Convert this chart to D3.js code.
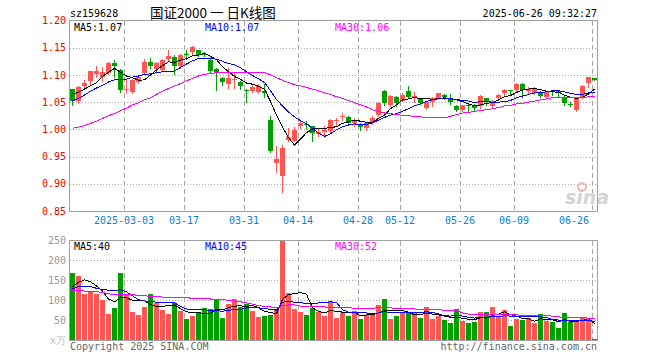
<!DOCTYPE html>
<html>
<head>
<meta charset="utf-8">
<script src="https://cdn.jsdelivr.net/npm/d3@7/dist/d3.min.js"></script>
<style>
  body { margin: 0; background: #fff; }
</style>
</head>
<body>
<script>
// trading days shown on the chart
const dates = [
  "2025-02-18","2025-02-19","2025-02-20","2025-02-21","2025-02-24","2025-02-25","2025-02-26","2025-02-27","2025-02-28",
  "2025-03-03","2025-03-04","2025-03-05","2025-03-06","2025-03-07","2025-03-10","2025-03-11","2025-03-12","2025-03-13","2025-03-14",
  "2025-03-17","2025-03-18","2025-03-19","2025-03-20","2025-03-21","2025-03-24","2025-03-25","2025-03-26","2025-03-27","2025-03-28",
  "2025-03-31","2025-04-01","2025-04-02","2025-04-03","2025-04-07","2025-04-08","2025-04-09","2025-04-10","2025-04-11",
  "2025-04-14","2025-04-15","2025-04-16","2025-04-17","2025-04-18","2025-04-21","2025-04-22","2025-04-23","2025-04-24","2025-04-25",
  "2025-04-28","2025-04-29","2025-04-30","2025-05-06","2025-05-07","2025-05-08","2025-05-09",
  "2025-05-12","2025-05-13","2025-05-14","2025-05-15","2025-05-16","2025-05-19","2025-05-20","2025-05-21","2025-05-22","2025-05-23",
  "2025-05-26","2025-05-27","2025-05-28","2025-05-29","2025-05-30","2025-06-03","2025-06-04","2025-06-05","2025-06-06",
  "2025-06-09","2025-06-10","2025-06-11","2025-06-12","2025-06-13","2025-06-16","2025-06-17","2025-06-18","2025-06-19","2025-06-20",
  "2025-06-23","2025-06-24","2025-06-25","2025-06-26"
];

const open = [
  1.074,1.053,1.079,1.088,1.101,1.096,1.104,1.122,1.109,
  1.073,1.068,1.087,1.104,1.123,1.111,1.109,1.129,1.133,1.116,
  1.138,1.143,1.145,1.138,1.128,1.111,1.095,1.084,1.091,1.087,
  1.073,1.070,1.069,1.070,1.018,0.939,0.915,0.981,0.978,
  1.006,1.010,1.006,0.991,0.995,0.997,1.015,1.022,1.022,1.012,
  1.010,1.002,1.011,1.027,1.070,1.045,1.059,
  1.053,1.071,1.059,1.056,1.039,1.051,1.057,1.064,1.058,1.043,
  1.036,1.045,1.043,1.042,1.057,1.043,1.057,1.066,1.072,
  1.072,1.084,1.070,1.067,1.068,1.059,1.070,1.070,1.059,1.046,
  1.035,1.059,1.086,1.094
];
const high = [
  1.075,1.079,1.090,1.108,1.117,1.115,1.123,1.127,1.110,
  1.093,1.093,1.099,1.129,1.131,1.124,1.129,1.146,1.137,1.138,
  1.145,1.154,1.146,1.143,1.130,1.113,1.096,1.113,1.104,1.088,
  1.074,1.081,1.084,1.084,1.024,0.969,0.972,1.003,1.004,
  1.018,1.015,1.007,1.000,1.007,1.019,1.020,1.030,1.024,1.020,
  1.011,1.014,1.024,1.051,1.072,1.064,1.061,
  1.067,1.079,1.068,1.057,1.051,1.059,1.067,1.065,1.065,1.045,
  1.045,1.046,1.047,1.064,1.058,1.054,1.065,1.074,1.073,
  1.085,1.085,1.078,1.077,1.071,1.071,1.073,1.071,1.061,1.051,
  1.059,1.082,1.097,1.095
];
const low = [
  1.045,1.049,1.078,1.082,1.096,1.088,1.102,1.096,1.068,
  1.067,1.067,1.085,1.102,1.113,1.108,1.107,1.125,1.101,1.113,
  1.130,1.139,1.134,1.134,1.104,1.072,1.082,1.076,1.076,1.075,
  1.050,1.069,1.067,1.060,0.958,0.922,0.885,0.978,0.978,
  1.002,1.000,0.978,0.988,0.986,0.996,1.008,1.017,1.008,1.006,
  0.998,0.998,1.010,1.025,1.045,1.043,1.042,
  1.052,1.057,1.051,1.047,1.038,1.042,1.055,1.055,1.046,1.034,
  1.034,1.033,1.036,1.040,1.045,1.041,1.055,1.064,1.063,
  1.070,1.059,1.066,1.065,1.060,1.057,1.063,1.062,1.045,1.042,
  1.033,1.058,1.077,1.090
];
const close = [
  1.052,1.078,1.085,1.107,1.107,1.106,1.122,1.116,1.072,
  1.075,1.090,1.096,1.123,1.117,1.121,1.127,1.134,1.116,1.137,
  1.137,1.152,1.136,1.137,1.107,1.106,1.087,1.095,1.092,1.079,
  1.070,1.077,1.079,1.067,0.960,0.946,0.966,0.986,0.999,
  1.012,1.008,0.993,0.996,0.999,1.018,1.017,1.024,1.012,1.016,
  1.004,1.011,1.020,1.049,1.048,1.062,1.048,
  1.064,1.059,1.062,1.048,1.050,1.057,1.066,1.060,1.050,1.036,
  1.044,1.043,1.040,1.062,1.050,1.052,1.064,1.072,1.070,
  1.083,1.072,1.074,1.074,1.062,1.068,1.068,1.067,1.049,1.044,
  1.057,1.080,1.096,1.091
];

// volume, in 万
const volume = [
  168,162,115,121,115,100,65,80,168,
  115,70,62,82,115,93,75,65,92,72,
  52,60,67,80,77,102,55,90,102,82,
  90,72,57,61,63,79,250,117,77,
  70,62,80,70,60,97,55,68,60,72,
  52,62,68,87,102,52,60,
  67,67,67,55,82,52,60,50,42,77,
  47,42,45,70,70,82,57,75,35,
  52,50,55,42,65,47,45,30,67,45,
  47,55,55,2
];

const ma5 = [
  1.065,1.068,1.074,1.080,1.086,1.097,1.105,1.112,1.105,
  1.098,1.095,1.090,1.091,1.100,1.109,1.117,1.124,1.123,1.127,
  1.130,1.135,1.136,1.140,1.134,1.128,1.115,1.106,1.097,1.092,
  1.085,1.083,1.079,1.074,1.051,1.026,1.004,0.985,0.971,
  0.982,0.994,1.000,1.002,1.002,1.003,1.005,1.011,1.014,1.017,
  1.015,1.013,1.013,1.020,1.026,1.038,1.045,
  1.054,1.056,1.059,1.056,1.057,1.055,1.057,1.056,1.057,1.054,
  1.051,1.047,1.043,1.045,1.048,1.049,1.054,1.060,1.062,
  1.068,1.072,1.074,1.075,1.073,1.070,1.069,1.068,1.063,1.059,
  1.057,1.059,1.065,1.074
];
const ma10 = [
  1.052,1.057,1.063,1.070,1.076,1.081,1.087,1.091,1.091,
  1.092,1.096,1.098,1.101,1.102,1.104,1.106,1.107,1.107,1.114,
  1.120,1.126,1.130,1.131,1.130,1.129,1.125,1.121,1.119,1.113,
  1.106,1.099,1.093,1.086,1.071,1.055,1.043,1.032,1.023,
  1.016,1.010,1.002,0.993,0.987,0.992,0.999,1.005,1.008,1.010,
  1.009,1.009,1.012,1.017,1.022,1.026,1.029,
  1.033,1.038,1.043,1.047,1.051,1.055,1.056,1.058,1.056,1.055,
  1.053,1.052,1.049,1.051,1.051,1.050,1.050,1.051,1.053,
  1.058,1.061,1.064,1.067,1.067,1.069,1.071,1.071,1.069,1.066,
  1.064,1.064,1.067,1.068
];
const ma30 = [
  1.002,1.004,1.007,1.011,1.015,1.020,1.025,1.029,1.034,
  1.039,1.045,1.049,1.054,1.058,1.064,1.070,1.075,1.080,1.084,
  1.089,1.094,1.098,1.101,1.103,1.104,1.105,1.105,1.105,1.105,
  1.105,1.105,1.105,1.105,1.100,1.095,1.090,1.086,1.082,
  1.080,1.077,1.074,1.071,1.067,1.064,1.060,1.057,1.053,1.049,
  1.045,1.041,1.036,1.033,1.030,1.029,1.027,
  1.026,1.025,1.024,1.023,1.022,1.022,1.021,1.021,1.024,1.027,
  1.030,1.031,1.033,1.035,1.036,1.038,1.040,1.043,1.044,
  1.047,1.048,1.050,1.052,1.054,1.056,1.058,1.058,1.058,1.058,
  1.058,1.058,1.060,1.061
];

const volMa5 = [
  134,145,151,146,136,123,103,96,106,
  106,100,99,99,89,84,85,86,88,79,
  71,68,69,66,67,77,76,81,85,86,
  84,87,81,72,69,66,102,114,117,
  119,115,81,72,68,74,72,70,68,70,
  61,63,63,68,74,74,74,
  74,70,63,63,68,65,63,60,57,56,
  55,52,51,56,55,62,65,71,64,
  60,54,53,47,53,52,51,46,51,47,
  47,49,54,41
];
const volMa10 = [
  128,135,135,134,130,127,125,125,126,
  121,111,101,98,97,95,93,93,94,84,
  78,77,77,77,73,74,72,75,76,77,
  81,82,81,79,77,75,95,97,95,
  94,91,92,93,93,96,94,76,70,69,
  68,68,66,68,72,68,68,
  68,69,68,69,71,69,66,61,60,62,
  60,57,55,57,56,59,58,61,60,
  58,58,59,59,58,56,52,50,49,50,
  49,50,50,46
];
const volMa30 = [
  125,124,123,122,121,120,116,114,114,
  115,114,112,111,110,109,108,107,107,106,
  106,105,104,104,103,102,101,100,98,96,
  93,90,86,85,83,81,86,88,88,
  85,83,83,84,83,82,81,81,81,80,
  79,80,80,81,81,81,79,
  80,79,78,77,76,76,76,75,75,75,
  68,65,64,64,65,65,64,65,63,
  63,62,62,61,61,61,60,58,57,57,
  56,56,55,53
];

const tickDates = ["2025-03-03","2025-03-17","2025-03-31","2025-04-14","2025-04-28","2025-05-12","2025-05-26","2025-06-09","2025-06-26"];
const tickLabels = ["2025-03-03","03-17","03-31","04-14","04-28","05-12","05-26","06-09","06-26"];
const priceTicks = [0.85, 0.90, 0.95, 1.00, 1.05, 1.10, 1.15, 1.20];
const volumeTicks = [50, 100, 150, 200, 250];
const priceMaLabels = ["MA5:1.07", "MA10:1.07", "MA30:1.06"];
const volumeMaLabels = ["MA5:40", "MA10:45", "MA30:52"];

const width = 660;
const height = 360;
const mono = '"DejaVu Sans Mono", "Liberation Mono", monospace';
const red = "#ff5555";
const green = "#009f00";
const maColors = ["#000000", "#0000ff", "#ff00ff"];

const left = 70;
const right = 598;
const priceTop = 20.5;
const priceBottom = 211;
const volTop = 240.5;
const volBottom = 340;

const svg = d3
  .select("body")
  .append("svg")
  .attr("width", width)
  .attr("height", height)
  .style("font-family", mono)
  .style("font-size", "10px");

const xScale = d3
  .scaleBand()
  .domain(dates)
  .range([left, right])
  .paddingInner(0.17)
  .align(0)
  .round(true);
const bw = xScale.bandwidth();
const mid = (d) => xScale(d) + Math.floor(bw / 2) + 0.5;

const yPrice = d3.scaleLinear().domain([0.85, 1.2]).range([priceBottom, priceTop]);
const yVol = d3.scaleLinear().domain([0, 250]).range([volBottom, volTop]);
const crisp = (v) => Math.round(v) + 0.5;

// grid
const grid = svg.append("g").attr("stroke", "#a8a8a8").attr("shape-rendering", "crispEdges");
grid
  .selectAll(".hp")
  .data(priceTicks.slice(1, -1))
  .join("line")
  .attr("x1", left)
  .attr("x2", right)
  .attr("y1", (d) => crisp(yPrice(d)))
  .attr("y2", (d) => crisp(yPrice(d)))
  .attr("stroke-dasharray", "1,2");
grid
  .selectAll(".hv")
  .data(volumeTicks.slice(0, -1))
  .join("line")
  .attr("x1", left)
  .attr("x2", right)
  .attr("y1", (d) => crisp(yVol(d)))
  .attr("y2", (d) => crisp(yVol(d)))
  .attr("stroke-dasharray", "1,2");
[[priceTop, priceBottom], [volTop, volBottom]].forEach(([y0, y1]) => {
  grid
    .append("g")
    .selectAll("line")
    .data(tickDates)
    .join("line")
    .attr("x1", (d) => crisp(xScale(d)))
    .attr("x2", (d) => crisp(xScale(d)))
    .attr("y1", y0)
    .attr("y2", y1)
    .attr("stroke-dasharray", "5,3");
});

// sina watermark
svg
  .append("text")
  .attr("x", 565)
  .attr("y", 204)
  .attr("font-family", "DejaVu Sans")
  .attr("font-size", 19)
  .attr("font-style", "italic")
  .attr("font-weight", "bold")
  .attr("fill", "#d4d4d4")
  .text("sina");
svg
  .append("circle")
  .attr("cx", 582)
  .attr("cy", 187)
  .attr("r", 4)
  .attr("fill", "none")
  .attr("stroke", "#f2b8b8")
  .attr("stroke-width", 2);

const colorOf = (i) => (close[i] >= open[i] ? red : green);

// candles
const candles = svg
  .append("g")
  .attr("shape-rendering", "crispEdges")
  .selectAll("g")
  .data(dates)
  .join("g");
candles
  .append("line")
  .attr("x1", (d) => mid(d))
  .attr("x2", (d) => mid(d))
  .attr("y1", (d, i) => Math.round(yPrice(high[i])))
  .attr("y2", (d, i) => Math.round(yPrice(low[i])) + 1)
  .attr("stroke", (d, i) => colorOf(i));
candles
  .append("rect")
  .attr("x", (d) => xScale(d))
  .attr("width", bw)
  .attr("y", (d, i) => Math.round(yPrice(Math.max(open[i], close[i]))))
  .attr("height", (d, i) =>
    Math.max(1, Math.round(yPrice(Math.min(open[i], close[i]))) - Math.round(yPrice(Math.max(open[i], close[i]))))
  )
  .attr("fill", (d, i) => colorOf(i));

// volume bars
svg
  .append("g")
  .attr("shape-rendering", "crispEdges")
  .selectAll("rect")
  .data(dates)
  .join("rect")
  .attr("x", (d) => xScale(d))
  .attr("width", bw)
  .attr("y", (d, i) => Math.round(yVol(Math.min(volume[i], 250))))
  .attr("height", (d, i) => volBottom - Math.round(yVol(Math.min(volume[i], 250))))
  .attr("fill", (d, i) => colorOf(i));

// moving averages
const priceLine = d3
  .line()
  .x((v, i) => mid(dates[i]))
  .y((v) => yPrice(v));
const volLine = d3
  .line()
  .x((v, i) => mid(dates[i]))
  .y((v) => yVol(v));
[ma5, ma10, ma30].forEach((series, k) => {
  svg
    .append("path")
    .datum(series)
    .attr("d", priceLine)
    .attr("fill", "none")
    .attr("stroke", maColors[k])
    .attr("stroke-width", 1)
    .attr("shape-rendering", "crispEdges");
});
[volMa5, volMa10, volMa30].forEach((series, k) => {
  svg
    .append("path")
    .datum(series)
    .attr("d", volLine)
    .attr("fill", "none")
    .attr("stroke", maColors[k])
    .attr("stroke-width", 1)
    .attr("shape-rendering", "crispEdges");
});

// frames
[[priceTop, priceBottom + 0.5], [volTop, volBottom + 0.5]].forEach(([y0, y1]) => {
  svg
    .append("rect")
    .attr("x", left - 0.5)
    .attr("y", y0)
    .attr("width", right - left)
    .attr("height", y1 - y0)
    .attr("fill", "none")
    .attr("stroke", "#a0a0a0")
    .attr("shape-rendering", "crispEdges");
});

// axes
const priceAxis = d3
  .axisLeft(yPrice)
  .tickValues(priceTicks)
  .tickFormat(d3.format(".2f"))
  .tickSize(0)
  .tickPadding(3);
svg
  .append("g")
  .attr("transform", `translate(${left - 1},0)`)
  .call(priceAxis)
  .attr("font-family", mono)
  .attr("font-size", 10)
  .call((g) => g.select(".domain").remove())
  .call((g) => g.selectAll("text").attr("fill", "#f00000"));

const volAxis = d3
  .axisLeft(yVol)
  .tickValues(volumeTicks)
  .tickSize(0)
  .tickPadding(3);
svg
  .append("g")
  .attr("transform", `translate(${left - 1},0)`)
  .call(volAxis)
  .attr("font-family", mono)
  .attr("font-size", 10)
  .call((g) => g.select(".domain").remove())
  .call((g) => g.selectAll("text").attr("fill", "#999"));

const xAxis = d3
  .axisBottom(xScale)
  .tickValues(tickDates)
  .tickFormat((d) => tickLabels[tickDates.indexOf(d)])
  .tickSize(0)
  .tickPadding(6);
svg
  .append("g")
  .attr("transform", `translate(-2.5,${priceBottom})`)
  .call(xAxis)
  .attr("font-family", mono)
  .attr("font-size", 10)
  .call((g) => g.select(".domain").remove())
  .call((g) =>
    g.selectAll("text").attr("fill", "#0a80d2").each(function (d) {
      const w = this.getComputedTextLength();
      const cx = xScale(d) + 2;
      if (cx + w / 2 > 591) d3.select(this).attr("x", 591 - w / 2 - cx);
    })
  );

svg
  .append("text")
  .attr("x", left - 4)
  .attr("y", volBottom + 4)
  .attr("text-anchor", "end")
  .attr("fill", "#c0c0c0")
  .text("x万");

// header and labels
svg.append("text").attr("x", 70).attr("y", 17).text("sz159628");
svg
  .append("text")
  .attr("x", 150)
  .attr("y", 18)
  .attr("font-family", '"Noto Sans CJK SC", sans-serif')
  .attr("font-size", 13.5)
  .text("国证2000 一 日K线图");
svg
  .append("text")
  .attr("x", 597)
  .attr("y", 17)
  .attr("text-anchor", "end")
  .text("2025-06-26 09:32:27");

const labelX = [74, 205, 335];
priceMaLabels.forEach((t, k) => {
  svg.append("text").attr("x", labelX[k]).attr("y", 31).attr("fill", maColors[k]).text(t);
});
volumeMaLabels.forEach((t, k) => {
  svg.append("text").attr("x", labelX[k]).attr("y", 250).attr("fill", maColors[k]).text(t);
});

svg.append("text").attr("x", 70).attr("y", 350).attr("fill", "#666").text("Copyright 2025 SINA.COM");
svg
  .append("text")
  .attr("x", 597)
  .attr("y", 350)
  .attr("text-anchor", "end")
  .attr("fill", "#666")
  .text("http://finance.sina.com.cn");
</script>
</body>
</html>
